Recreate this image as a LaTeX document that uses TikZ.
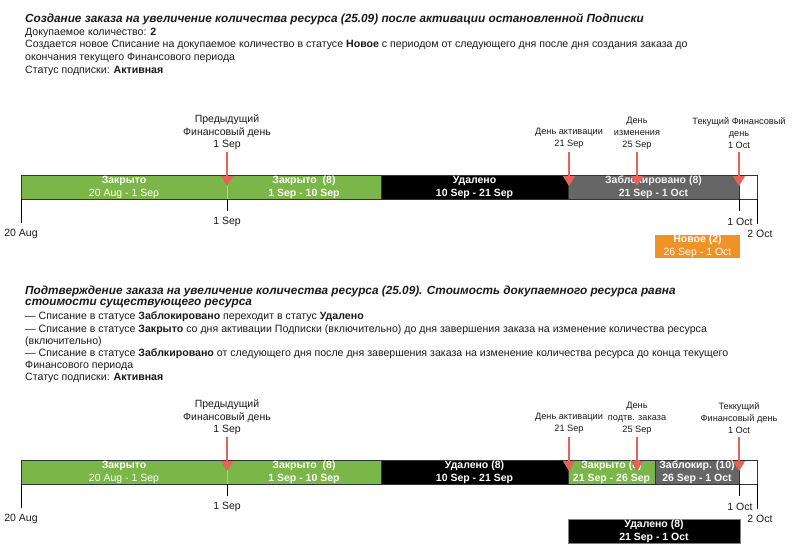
\documentclass[tikz,border=0pt]{standalone}
\usepackage{fontspec}
\setmainfont{Liberation Sans}
\usetikzlibrary{arrows.meta}
\definecolor{grn}{HTML}{7AB648}
\definecolor{gry}{HTML}{666666}
\definecolor{org}{HTML}{F0922A}
\definecolor{redarr}{HTML}{E8625A}
\definecolor{bord}{HTML}{333333}
\definecolor{txt}{HTML}{1A1A1A}
\tikzset{
  bodytxt/.style={anchor=west,inner sep=0pt,text=txt,font=\fontsize{10.6}{12}\selectfont},
  titletxt/.style={anchor=west,inner sep=0pt,text=txt,font=\fontsize{11.8}{13}\selectfont\bfseries\itshape},
  seg/.style={draw=bord,line width=0.8pt,minimum height=24pt,inner sep=0pt,text=white,align=center,font=\fontsize{10.5}{13}\selectfont},
  lbl/.style={inner sep=0pt,align=center,text=txt,font=\fontsize{9.2}{12}\selectfont},
  biglbl/.style={lbl,font=\fontsize{10.5}{12.5}\selectfont},
  ticklbl/.style={inner sep=0pt,text=txt,font=\fontsize{10.5}{12}\selectfont},
  tick/.style={draw=black,line width=0.9pt},
  redarrow/.style={draw=redarr,line width=1.2pt,-{Triangle[width=12pt,length=10pt]}},
}
\begin{document}
\begin{tikzpicture}[x=1pt,y=-1pt]
\useasboundingbox (0,0) rectangle (792,551);
% ---------- Section 1 text
\node[titletxt] (t1) at (25,19) {Создание заказа на увеличение количества ресурса (25.09) после активации остановленной Подписки};
\node[bodytxt] (t1a) at (25,32.5) {Докупаемое количество: \textbf{2}};
\node[bodytxt] (t1b) at (25,45) {Создается новое Списание на докупаемое количество в статусе \textbf{Новое} с периодом от следующего дня после дня создания заказа до};
\node[bodytxt] (t1c) at (25,57.5) {окончания текущего Финансового периода};
\node[bodytxt] (t1d) at (25,70.5) {Статус подписки: \textbf{Активная}};
% ---------- Timeline 1
\node[seg,fill=grn,minimum width=206pt] (a1) at (124,187) {\textbf{Закрыто}\\20 Aug - 1 Sep};
\node[seg,fill=grn,minimum width=154pt] (a2) at (304,187) {\textbf{Закрыто\ \ (8)}\\\textbf{1 Sep - 10 Sep}};
\node[seg,fill=black,minimum width=187pt] (a3) at (474.5,187) {\textbf{Удалено}\\\textbf{10 Sep - 21 Sep}};
\node[seg,fill=gry,minimum width=171pt,text=white!90!gray] (a4) at (653.5,187) {\textbf{Заблокировано (8)}\\\textbf{21 Sep - 1 Oct}};
\node[seg,fill=white,minimum width=18pt] (a5) at (748,187) {};
\draw[grn!60!white,line width=0.8pt] (227,176) -- (227,198.5);
% ticks
\coordinate (k1) at (21,199);
\coordinate (k2) at (227,199);
\coordinate (k3) at (739,199);
\coordinate (k4) at (757,199);
\node[ticklbl] (l1) at (21,234) {20 Aug};
\node[ticklbl] (l2) at (227,222) {1 Sep};
\node[ticklbl] (l3) at (740,222) {1 Oct};
\node[ticklbl] (l4) at (760,234) {2 Oct};
\draw[tick] (k1) -- (21,223);
\draw[tick] (k2) -- (227,211);
\draw[tick] (k3) -- (739,211);
\draw[tick] (k4) -- (757,224);
% orange
\node[seg,draw=none,fill=org,minimum width=85pt,minimum height=23pt] (a6) at (697.5,246.5) {\textbf{Новое (2)}\\26 Sep - 1 Oct};
% labels and arrows
\node[biglbl] (p1) at (227,132.5) {Предыдущий\\Финансовый день\\1 Sep};
\node[lbl] (p2) at (569,138.5) {День активации\\21 Sep};
\node[lbl] (p3) at (637,133) {День\\изменения\\25 Sep};
\node[lbl] (p4) at (739,133) {Текущий Финансовый\\день\\1 Oct};
\coordinate (q1) at (227,186);
\coordinate (q2) at (569,186);
\coordinate (q3) at (637,186);
\coordinate (q4) at (739,186);
\draw[redarrow] (227,152) -- (q1);
\draw[redarrow] (569,152) -- (q2);
\draw[redarrow] (637,152) -- (q3);
\draw[redarrow] (739,152) -- (q4);
% ---------- Section 2 text
\node[titletxt] (u1) at (25,291) {Подтверждение заказа на увеличение количества ресурса (25.09). Стоимость докупаемного ресурса равна};
\node[titletxt] (u2) at (25,304) {стоимости существующего ресурса};
\node[bodytxt] (u3) at (25,317) {— Списание в статусе \textbf{Заблокировано} переходит в статус \textbf{Удалено}};
\node[bodytxt] (u4) at (25,329.5) {— Списание в статусе \textbf{Закрыто} со дня активации Подписки (включительно) до дня завершения заказа на изменение количества ресурса};
\node[bodytxt] (u5) at (25,341.5) {(включительно)};
\node[bodytxt] (u6) at (25,354) {— Списание в статусе \textbf{Заблкировано} от следующего дня после дня завершения заказа на изменение количества ресурса до конца текущего};
\node[bodytxt] (u7) at (25,365.5) {Финансового периода};
\node[bodytxt] (u8) at (25,377.5) {Статус подписки: \textbf{Активная}};
% ---------- Timeline 2
\node[seg,fill=grn,minimum width=206pt] (b1) at (124,472) {\textbf{Закрыто}\\20 Aug - 1 Sep};
\node[seg,fill=grn,minimum width=154pt] (b2) at (304,472) {\textbf{Закрыто\ \ (8)}\\\textbf{1 Sep - 10 Sep}};
\node[seg,fill=black,minimum width=187pt] (b3) at (474.5,472) {\textbf{Удалено (8)}\\\textbf{10 Sep - 21 Sep}};
\node[seg,fill=grn,minimum width=87pt] (b4) at (611.5,472) {\textbf{Закрыто (8)}\\\textbf{21 Sep - 26 Sep}};
\node[seg,fill=gry,minimum width=84pt] (b5) at (697,472) {\textbf{Заблокир. (10)}\\\textbf{26 Sep - 1 Oct}};
\node[seg,fill=white,minimum width=18pt] (b6) at (748,472) {};
\draw[grn!60!white,line width=0.8pt] (227,461) -- (227,483.5);
\coordinate (m1) at (21,484);
\coordinate (m2) at (227,484);
\coordinate (m3) at (739,484);
\coordinate (m4) at (757,484);
\node[ticklbl] (n1) at (21,519) {20 Aug};
\node[ticklbl] (n2) at (227,507) {1 Sep};
\node[ticklbl] (n3) at (740,507) {1 Oct};
\node[ticklbl] (n4) at (760,519) {2 Oct};
\draw[tick] (m1) -- (21,508);
\draw[tick] (m2) -- (227,496);
\draw[tick] (m3) -- (739,496);
\draw[tick] (m4) -- (757,509);
\node[seg,draw=gray,fill=black,minimum width=172pt,minimum height=24pt] (b7) at (654,531) {\textbf{Удалено (8)}\\\textbf{21 Sep - 1 Oct}};
\node[biglbl] (r1) at (227,417.5) {Предыдущий\\Финансовый день\\1 Sep};
\node[lbl] (r2) at (569,423.5) {День активации\\21 Sep};
\node[lbl] (r3) at (637,418) {День\\подтв. заказа\\25 Sep};
\node[lbl] (r4) at (739,418) {Теккущий\\Финансовый день\\1 Oct};
\coordinate (s1) at (227,471);
\coordinate (s2) at (569,471);
\coordinate (s3) at (637,471);
\coordinate (s4) at (739,471);
\draw[redarrow] (227,437) -- (s1);
\draw[redarrow] (569,437) -- (s2);
\draw[redarrow] (637,437) -- (s3);
\draw[redarrow] (739,437) -- (s4);
\end{tikzpicture}
\end{document}
